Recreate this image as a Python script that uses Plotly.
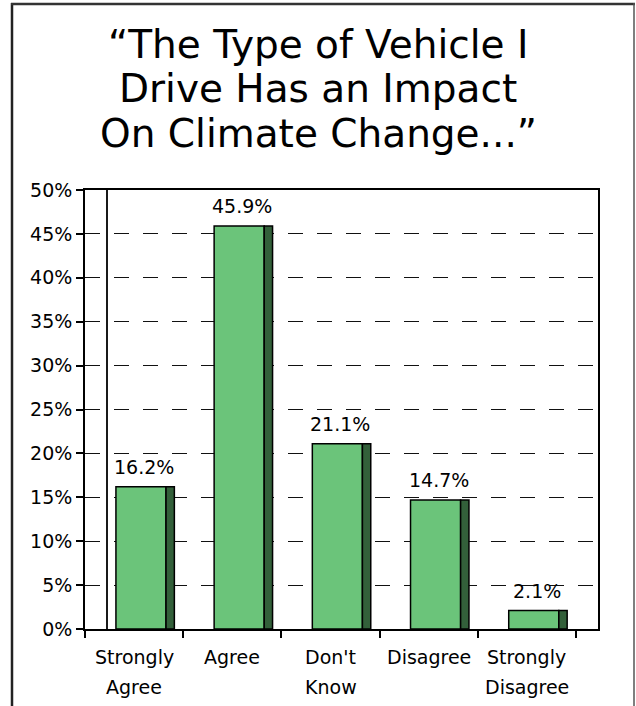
import plotly.graph_objects as go

# Survey responses
categories = ["Strongly<br>Agree", "Agree", "Don't<br>Know", "Disagree", "Strongly<br>Disagree"]
values = [16.2, 45.9, 21.1, 14.7, 2.1]
y_ticks = [0, 5, 10, 15, 20, 25, 30, 35, 40, 45, 50]
y_tick_text = [f"{v}%" for v in y_ticks]
title_lines = ["\u201cThe Type of Vehicle I", "Drive Has an Impact", "On Climate Change...\u201d"]

W, H = 636, 706
L, R, T, B = 85, 598, 190, 629  # plot area in pixels

FONT = "DejaVu Sans"
FRONT = "#6BC47A"
SIDE = "#33603A"

def px_x(p):
    return (p - L) / (R - L)

def px_y(p):
    return (B - p) / (B - T)

xs = list(range(len(values)))
x_max = -0.5 + (R - L) / ((576 - L) / len(values))

fig = go.Figure()
# front face of each bar
fig.add_trace(go.Bar(
    x=xs, y=values, width=0.51, offset=-0.185,
    marker=dict(color=FRONT, line=dict(color="black", width=1.5)),
    hoverinfo="skip",
))
# shaded side face giving the bars depth
fig.add_trace(go.Bar(
    x=xs, y=values, width=0.085, offset=0.325,
    marker=dict(color=SIDE, line=dict(color="black", width=1.5)),
    hoverinfo="skip",
))

annotations = []
for i, v in enumerate(values):
    annotations.append(dict(
        x=i + 0.1, y=v, xref="x", yref="y", text=f"{v}%",
        showarrow=False, yanchor="bottom", yshift=7,
        font=dict(family=FONT, size=19, color="black"),
    ))
for i, c in enumerate(categories):
    for j, part in enumerate(c.split("<br>")):
        annotations.append(dict(
            x=i, y=px_y(657 + 30 * j), xref="x", yref="paper", text=part,
            showarrow=False, yanchor="middle",
            font=dict(family=FONT, size=19, color="black"),
        ))
for j, line in enumerate(title_lines):
    annotations.append(dict(
        x=0.5 * (px_x(0) + px_x(W)), y=px_y(44 + 45 * j), xref="paper", yref="paper",
        text=line, showarrow=False, xanchor="center", yanchor="middle",
        font=dict(family=FONT, size=39, color="black"),
    ))

shapes = [
    # back wall edge
    dict(type="line", xref="paper", yref="paper", x0=px_x(107), x1=px_x(107), y0=0, y1=1,
         line=dict(color="black", width=1.8)),
    # outer frame
    dict(type="line", xref="paper", yref="paper", x0=px_x(12), x1=px_x(12), y0=px_y(3), y1=px_y(H + 5),
         line=dict(color="#222", width=2.5)),
    dict(type="line", xref="paper", yref="paper", x0=px_x(11), x1=px_x(635), y0=px_y(4), y1=px_y(4),
         line=dict(color="#333", width=2.5)),
    dict(type="line", xref="paper", yref="paper", x0=px_x(634), x1=px_x(634), y0=px_y(3), y1=px_y(H + 5),
         line=dict(color="#555", width=1.5)),
]

fig.update_layout(
    width=W, height=H,
    margin=dict(l=L, r=W - R, t=T, b=H - B),
    paper_bgcolor="white", plot_bgcolor="white",
    showlegend=False, barmode="overlay",
    annotations=annotations, shapes=shapes,
    xaxis=dict(
        range=[-0.5, x_max], tickmode="array",
        tickvals=[i - 0.5 for i in range(len(values) + 1)], ticktext=[""] * (len(values) + 1),
        ticks="outside", ticklen=7, tickwidth=1.5, tickcolor="black",
        showline=True, linecolor="black", linewidth=1.8, mirror=True,
        showgrid=False, zeroline=False, fixedrange=True,
    ),
    yaxis=dict(
        range=[0, 50], tickmode="array", tickvals=y_ticks, ticktext=y_tick_text,
        ticks="outside", ticklen=7, tickwidth=1.5, tickcolor="black",
        tickfont=dict(family=FONT, size=19, color="black"),
        showline=True, linecolor="black", linewidth=1.8, mirror=True,
        showgrid=True, gridcolor="#111", gridwidth=1.2, griddash="15px,14px",
        zeroline=False, fixedrange=True,
    ),
)

fig.write_html("out.html")
